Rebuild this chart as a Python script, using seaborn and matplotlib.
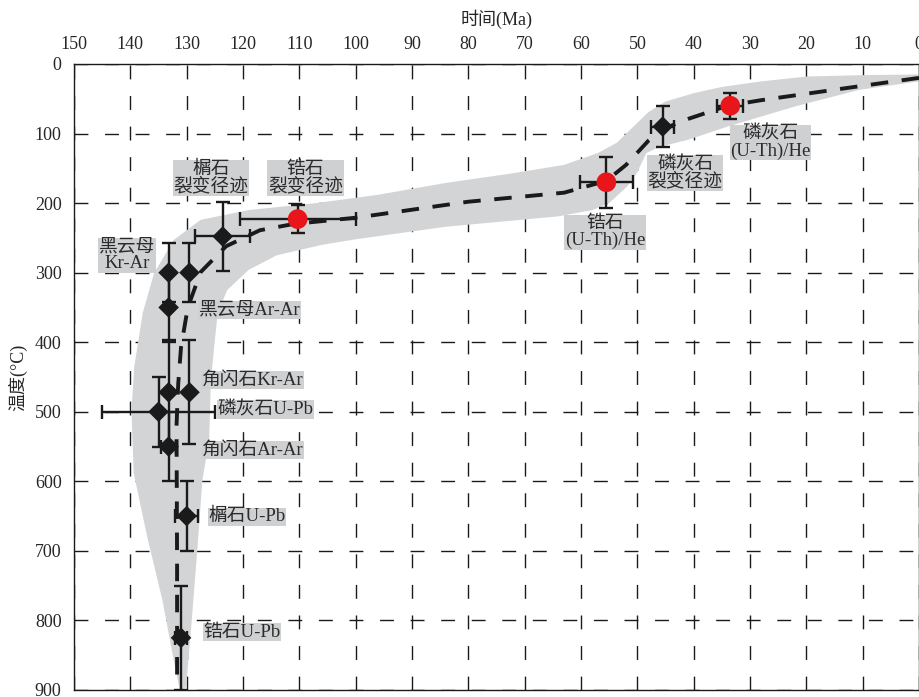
import numpy as np
import pandas as pd
import matplotlib
matplotlib.use("Agg")
import matplotlib.pyplot as plt
import seaborn as sns

# cooling path (age Ma, temperature C)
path_age = [0, 15, 28, 34, 41, 45, 48, 52, 55.5, 63, 80, 100, 111, 117, 123,
            127.5, 129.8, 131, 131.5, 131.8, 131.7, 131.7]
path_temp = [20, 37, 52, 60, 79, 92, 110, 145, 168, 185, 198, 221, 230, 239, 262,
             299, 350, 407, 460, 520, 720, 895]

# grey envelope: outer (upper/left) and inner (lower/right) edges
band_outer_age = [0, 10, 20, 28, 35, 40, 45, 48, 50.7, 53.6, 57, 63, 72, 84, 96, 107,
                  119, 127.5, 132.3, 135.8, 137.8, 139.3, 139.8, 139.4, 137, 134.3, 132, 131.2]
band_outer_temp = [15, 16, 18, 25, 33, 42, 54, 69, 90, 113, 128, 145, 157, 171, 188, 200,
                   210, 224, 253, 301, 358, 435, 500, 588, 680, 771, 870, 900]
band_inner_age = [0, 10.5, 22, 34, 41, 46, 48.4, 50.1, 51.8, 55, 58, 64, 84, 100, 106,
                  114, 119, 122.8, 124.5, 125.7, 126, 127.2, 128.1, 129, 130.1, 131]
band_inner_temp = [25, 37, 61, 90, 109, 119, 128, 157, 176, 200, 210, 219, 234, 252, 260,
                   275, 296, 325, 358, 454, 540, 598, 697, 790, 896, 900]

# samples with error bars
samp_age = [131, 130, 133.2, 135, 133.2, 129.5, 133.2, 133.2, 129.5, 123.6, 110.3, 55.5, 45.5, 33.5]
samp_temp = [825, 650, 550, 500, 472, 472, 350, 300, 300, 248, 223, 170, 90, 60]
samp_age_err = [1, 2, 1.3, 10, 0, 0, 0, 0, 0, 4.9, 10.3, 4.7, 2, 2.3]
samp_temp_err = [75, 50, 50, 50, 75, 75, 50, 42, 42, 49, 20, 37, 30, 19]
samp_kind = ["d", "d", "d", "d", "d", "d", "d", "d", "d", "d", "c", "c", "d", "c"]

# labels
lab_text = ["榍石\n裂变径迹", "锆石\n裂变径迹", "黑云母\nKr-Ar", "黑云母Ar-Ar", "角闪石Kr-Ar",
            "磷灰石U-Pb", "角闪石Ar-Ar", "榍石U-Pb", "锆石U-Pb", "锆石\n(U-Th)/He",
            "磷灰石\n裂变径迹", "磷灰石\n(U-Th)/He"]
lab_age = [125.7, 108.9, 140.6, 127.8, 127.3, 124.6, 127.3, 126.1, 127.0, 55.7, 41.5, 26.4]
lab_temp = [164, 164, 275, 354, 454, 497, 555, 651, 817, 242, 157, 113]
lab_ha = ["center", "center", "center", "left", "left", "left", "left", "left", "left",
          "center", "center", "center"]

sns.set_style("white")
plt.rcParams["font.family"] = ["Liberation Serif", "Noto Sans CJK SC"]
plt.rcParams["axes.unicode_minus"] = False

fig = plt.figure(figsize=(9.19, 6.97), dpi=100)
ax = fig.add_axes([74 / 919, 7 / 697, 845 / 919, 626 / 697])

band_x = band_outer_age + band_inner_age[::-1]
band_y = band_outer_temp + band_inner_temp[::-1]
ax.fill(band_x, band_y, color="#d3d4d6", lw=0, zorder=1)

path_df = pd.DataFrame({"age": path_age, "temp": path_temp})
sns.lineplot(data=path_df, x="age", y="temp", sort=False, estimator=None, ax=ax,
             color="#1a1a1a", lw=2.8, linestyle=(0, (4.5, 3.5)), zorder=3)

samp = pd.DataFrame({"age": samp_age, "temp": samp_temp, "xe": samp_age_err,
                     "ye": samp_temp_err, "kind": samp_kind})
ax.errorbar(samp["age"], samp["temp"], xerr=samp["xe"], yerr=samp["ye"], fmt="none",
            ecolor="#1a1a1a", elinewidth=1.7, capsize=5, capthick=1.7, zorder=4)
dia = samp[samp["kind"] == "d"]
circ = samp[samp["kind"] == "c"]
sns.scatterplot(data=dia, x="age", y="temp", marker="D", s=110, color="#1a1a1a",
                edgecolor="none", ax=ax, zorder=5)
sns.scatterplot(data=circ, x="age", y="temp", marker="o", s=200, color="#e8151b",
                edgecolor="none", ax=ax, zorder=5)

for t, a, tp, ha in zip(lab_text, lab_age, lab_temp, lab_ha):
    ax.text(a, tp, t, ha=ha, va="center", fontsize=13.5, color="#2b2b2b",
            linespacing=1.0, zorder=6,
            bbox=dict(boxstyle="square,pad=0.03", fc="#cfd0d2", ec="none"))

ax.set_xlim(150, 0)
ax.set_ylim(900, 0)
ax.set_xticks(np.arange(150, -1, -10))
ax.set_yticks(np.arange(0, 901, 100))
ax.xaxis.tick_top()
ax.xaxis.set_label_position("top")
ax.tick_params(length=0, labelsize=13, pad=8)
ax.tick_params(axis="y", pad=9)
ax.set_xlabel("时间(Ma)", fontsize=13, labelpad=8)
ax.set_ylabel("温度(°C)", fontsize=13, labelpad=5)
ax.grid(True, color="#1a1a1a", lw=1.0, linestyle=(0, (10, 12)))
ax.set_axisbelow(True)
for s in ax.spines.values():
    s.set_color("#1a1a1a")
    s.set_linewidth(1.0)

fig.savefig("out.png", dpi=100)
